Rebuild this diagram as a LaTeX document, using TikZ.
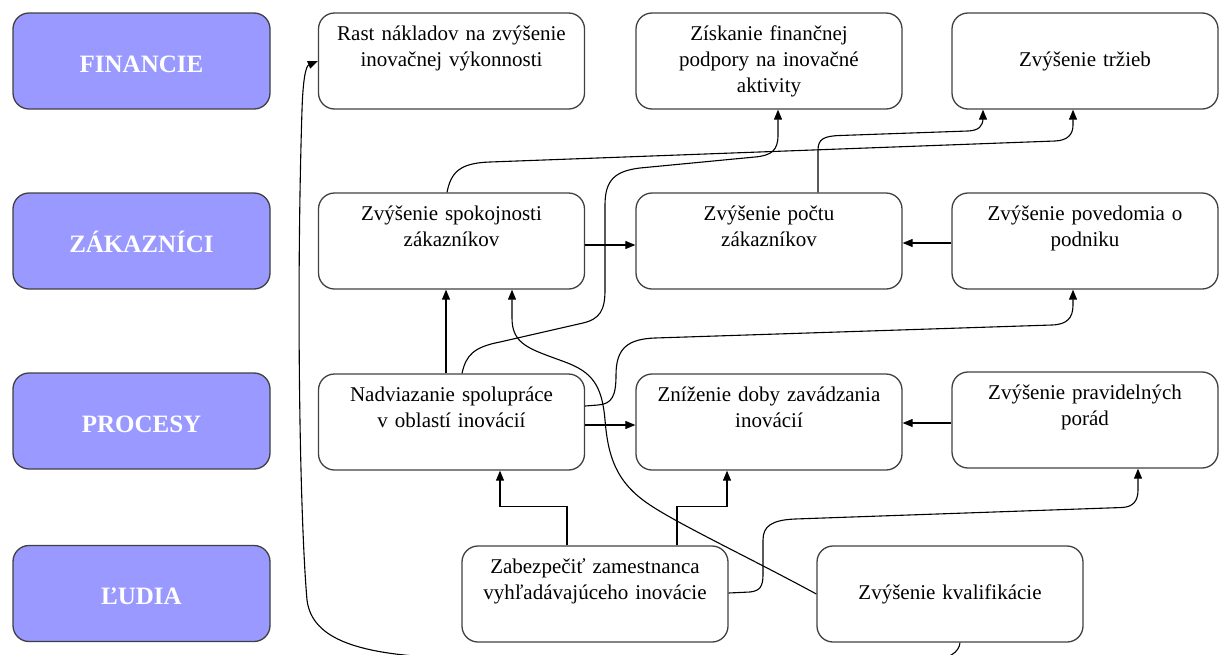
\documentclass[tikz,border=0pt]{standalone}
\usepackage{fontspec}
\setmainfont{Liberation Serif}
\usetikzlibrary{arrows.meta}
\definecolor{lanefill}{HTML}{9999FF}
\definecolor{boxline}{HTML}{404040}
\begin{document}
\begin{tikzpicture}[x=1pt,y=-1pt,
  box/.style={draw=boxline, line width=1.3pt, rounded corners=16pt,
    minimum width=266pt, minimum height=96pt, inner sep=0pt,
    align=center, text width=262pt, font=\fontsize{21}{26}\selectfont},
  lane/.style={draw=boxline, line width=1.3pt, rounded corners=16pt,
    fill=lanefill, minimum width=257pt, minimum height=96pt, inner sep=0pt,
    text height=22pt, text depth=0pt,
    text=white, font=\fontsize{25}{28}\selectfont\bfseries},
  link/.style={line width=1.1pt, -{Triangle[length=10pt,width=8pt]}}
]
\useasboundingbox (0,0) rectangle (1224,654);
\clip (0,0) rectangle (1224,654);

% perspective lanes
\node[lane] (fin) at (141.5,61)    {FINANCIE};
\node[lane] (zak) at (141.5,241)   {ZÁKAZNÍCI};
\node[lane] (pro) at (141.5,421)   {PROCESY};
\node[lane] (lud) at (141.5,593.5) {ĽUDIA};

% goals
\node[box] (rast)  at (451.5,61)  {\strut Rast nákladov na zvýšenie\\\strut inovačnej výkonnosti\\\strut};
\node[box] (fpod)  at (769,61)    {\strut Získanie finančnej\\\strut podpory na inovačné\\\strut aktivity};
\node[box] (trz)   at (1085,61)   {\strut Zvýšenie tržieb};
\node[box] (spok)  at (451.5,241) {\strut Zvýšenie spokojnosti\\\strut zákazníkov\\\strut};
\node[box] (pocet) at (769,241)   {\strut Zvýšenie počtu\\\strut zákazníkov\\\strut};
\node[box] (pov)   at (1085,241)  {\strut Zvýšenie povedomia o\\\strut podniku\\\strut};
\node[box] (spol)  at (451.5,422) {\strut Nadviazanie spolupráce\\\strut v oblastí inovácií\\\strut};
\node[box] (doba)  at (769,422)   {\strut Zníženie doby zavádzania\\\strut inovácií\\\strut};
\node[box] (porad) at (1085,420)  {\strut Zvýšenie pravidelných\\\strut porád\\\strut};
\node[box] (zam)   at (595,594)   {\strut Zabezpečiť zamestnanca\\\strut vyhľadávajúceho inovácie\\\strut};
\node[box] (kval)  at (950,594)   {\strut Zvýšenie kvalifikácie};

% straight links
\draw[link] ([yshift=-4pt]spok.east) -- ([yshift=-4pt]pocet.west);
\draw[link] ([yshift=-2pt]pov.west) -- ([yshift=-2pt]pocet.east);
\draw[link] ([yshift=-3pt]spol.east) -- ([yshift=-3pt]doba.west);
\draw[link] ([yshift=-3pt]porad.west) -- ([yshift=-1pt]doba.east);
\draw[link] ([xshift=-5.5pt]spol.north) -- ([xshift=-5.5pt]spok.south);
\draw[link] ([xshift=-28pt]zam.north) -- ++(0,-39) -| ([xshift=48.5pt]spol.south);
\draw[link] ([xshift=82pt]zam.north) -- ++(0,-39) -| ([xshift=-42pt]doba.south);

% curved links
\draw[link] ([yshift=1pt]zam.east) -- (750,592)
  .. controls (760,591) and (763,586) .. (763,575) -- (763,540)
  .. controls (763,526) and (772,520) .. (795,519) -- (1122,507.5)
  .. controls (1133,507) and (1138,501) .. (1138,490) -- ([xshift=53pt]porad.south);

\draw[link] ([yshift=16pt]spol.east) -- (598,405)
  .. controls (612,404) and (616,396) .. (616,375)
  .. controls (616,348) and (628,339) .. (655,338) -- (1052,325)
  .. controls (1067,324.5) and (1073,318) .. (1073,305) -- ([xshift=-12pt]pov.south);

\draw[link] ([xshift=10.5pt]spol.north)
  .. controls (466,355) and (474,347) .. (500,342) -- (583,323)
  .. controls (600,319) and (605,310) .. (605,290) -- (605,205)
  .. controls (605,180) and (615,171) .. (640,168) -- (755,157)
  .. controls (772,155.5) and (778,150) .. (778,135) -- ([xshift=9pt]fpod.south);

\draw[link] ([xshift=-4.5pt]spok.north)
  .. controls (451,172) and (460,163) .. (490,162) -- (1055,141)
  .. controls (1068,140.5) and (1073,134) .. (1073,125) -- ([xshift=-12pt]trz.south);

\draw[link] ([xshift=49pt]pocet.north) -- (818,150)
  .. controls (818,139) and (824,136) .. (840,135.5) -- (968,131)
  .. controls (979,130.5) and (983,126) .. (983,118) -- ([xshift=-102pt]trz.south);

\draw[link] (kval.west)
  .. controls (750,558) and (680,525) .. (650,505)
  .. controls (615,482) and (608,455) .. (605,420)
  .. controls (602,385) and (592,372) .. (565,362)
  .. controls (530,349) and (512,345) .. (512,318) -- ([xshift=60.5pt]spok.south);

\draw[link] ([xshift=10pt]kval.south)
  .. controls (959,652) and (950,659) .. (930,660) -- (450,658)
  .. controls (360,655) and (312,640) .. (307,600)
  .. controls (300,520) and (296,300) .. (302,110)
  .. controls (303,78) and (306,66) .. (rast.west);
\end{tikzpicture}
\end{document}
